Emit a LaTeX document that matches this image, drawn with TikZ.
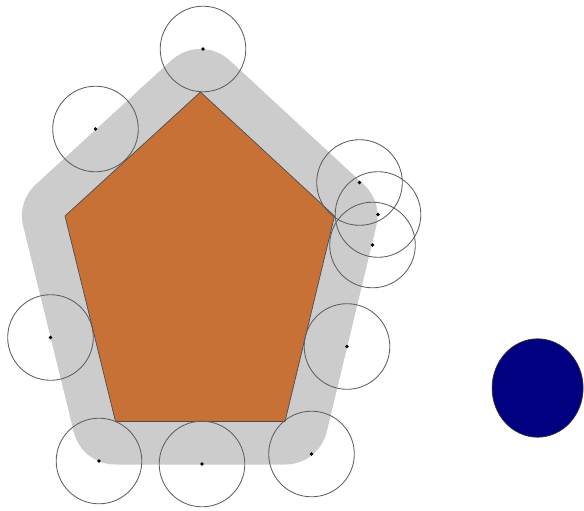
\documentclass[tikz,border=0pt]{standalone}
\usepackage{tikz}
\definecolor{buffergray}{HTML}{CCCCCC}
\definecolor{pentaorange}{HTML}{C87137}
\definecolor{ringgray}{HTML}{606060}
\definecolor{navyblue}{HTML}{000080}
\tikzset{
  buffer/.style={fill=buffergray,draw=buffergray,line width=86pt,line join=round},
  penta/.style={fill=pentaorange,draw=black!70,line width=0.7pt,line join=miter},
  ring/.style={draw=ringgray,line width=0.85pt},
  dotmark/.style={fill=black},
  disc/.style={fill=navyblue,draw=black!80,line width=0.7pt}
}
\begin{document}
\begin{tikzpicture}[x=1pt,y=-1pt]
\useasboundingbox (0,0) rectangle (584,511);
% pentagon corners
\coordinate (T) at (200.5,92);
\coordinate (R) at (334.5,216);
\coordinate (BR) at (285,421.5);
\coordinate (BL) at (115.5,421.5);
\coordinate (L) at (65,216);
% buffer zone
\filldraw[buffer] (T) -- (R) -- (BR) -- (BL) -- (L) -- cycle;
% pentagon
\filldraw[penta] (T) -- (R) -- (BR) -- (BL) -- (L) -- cycle;
% sample circles
\foreach \n/\cx/\cy in {c1/203/49,c2/95.5/129,c3/359.5/182.5,c4/378/214.5,c5/372.5/245,c6/50.5/337.5,c7/347/346.5,c8/99/461,c9/202/464,c10/311.5/454}{
  \coordinate (\n) at (\cx,\cy);
  \draw[ring] (\n) circle[radius=42.8];
  \fill[dotmark] (\n) circle[radius=1.8];
}
% blue disc
\coordinate (blue) at (537.6,388);
\filldraw[disc] (blue) circle[x radius=45.5, y radius=49.2];
\end{tikzpicture}
\end{document}
